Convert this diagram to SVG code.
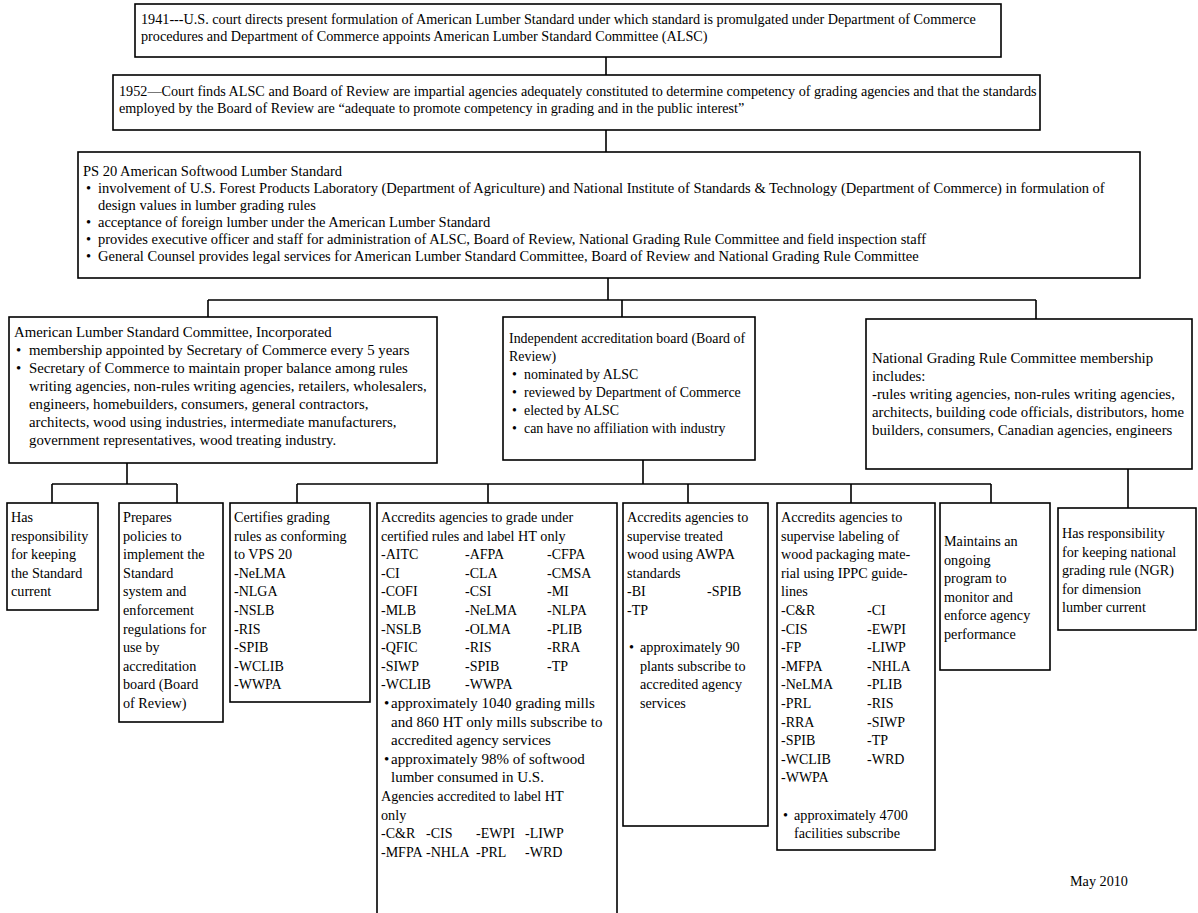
<svg xmlns="http://www.w3.org/2000/svg" width="1198" height="913" viewBox="0 0 1198 913">
<style>
.box{fill:#fff;stroke:#000;stroke-width:1.6}
.ln{fill:none;stroke:#000;stroke-width:1.6}
text{font-family:"Liberation Serif","Times New Roman",serif;fill:#000}
.s14{font-size:14.2px}
.s145{font-size:14.5px}
.s148{font-size:14.8px}
.s139{font-size:13.9px}
.s142{font-size:14.2px}
.code{font-size:14px}
.big{font-size:15px}
</style>
<rect width="1198" height="913" fill="#fff"/>
<g id="connectors">
<path class="ln" d="M606 57V75 M606 130V152 M608 278V300 M208 300H1036 M208 300V317 M622 300V317 M1036 300V319"/>
<path class="ln" d="M127 463V484 M52 484H177 M52 484V503 M177 484V503"/>
<path class="ln" d="M643 460V484 M297 484H991 M297 484V503 M488 484V503 M688 484V503 M851 484V503 M991 484V503"/>
<path class="ln" d="M1128 469V508"/>
</g>
<g id="n1941" class="s14">
<rect class="box" x="135" y="4" width="866" height="53"/>
<text x="141" y="24">1941---U.S. court directs present formulation of American Lumber Standard under which standard is promulgated under Department of Commerce</text>
<text x="141" y="41">procedures and Department of Commerce appoints American Lumber Standard Committee (ALSC)</text>
</g>
<g id="n1952" class="s14">
<rect class="box" x="113" y="75" width="927" height="55"/>
<text x="119" y="96">1952—Court finds ALSC and Board of Review are impartial agencies adequately constituted to determine competency of grading agencies and that the standards</text>
<text x="119" y="113">employed by the Board of Review are “adequate to promote competency in grading and in the public interest”</text>
</g>
<g id="ps20" class="s145">
<rect class="box" x="78" y="152" width="1062" height="126"/>
<text x="83" y="176">PS 20 American Softwood Lumber Standard</text>
<text x="86" y="193">•</text><text x="98" y="193">involvement of U.S. Forest Products Laboratory (Department of Agriculture) and National Institute of Standards &amp; Technology (Department of Commerce) in formulation of</text>
<text x="98" y="210">design values in lumber grading rules</text>
<text x="86" y="227">•</text><text x="98" y="227">acceptance  of foreign lumber under the American Lumber Standard</text>
<text x="86" y="244">•</text><text x="98" y="244">provides executive officer and staff for administration of ALSC, Board of Review, National Grading Rule Committee and field inspection staff</text>
<text x="86" y="261">•</text><text x="98" y="261">General Counsel provides legal services for American Lumber Standard Committee, Board of Review and National Grading Rule Committee</text>
</g>
<g id="alsc" class="s148">
<rect class="box" x="9" y="317" width="428" height="146"/>
<text x="14" y="337">American Lumber Standard Committee, Incorporated</text>
<text x="16" y="355">•</text><text x="29" y="355">membership appointed by Secretary of Commerce every 5 years</text>
<text x="16" y="373">•</text><text x="29" y="373">Secretary of Commerce to maintain proper balance among rules</text>
<text x="29" y="391">writing agencies, non-rules writing agencies, retailers, wholesalers,</text>
<text x="29" y="409">engineers, homebuilders, consumers, general contractors,</text>
<text x="29" y="427">architects, wood using industries, intermediate manufacturers,</text>
<text x="29" y="445">government representatives, wood treating industry.</text>
</g>
<g id="board" class="s139">
<rect class="box" x="503" y="317" width="252" height="143"/>
<text x="509" y="343">Independent accreditation board (Board of</text>
<text x="509" y="361">Review)</text>
<text x="512" y="379">•</text><text x="524" y="379">nominated by ALSC</text>
<text x="512" y="397">•</text><text x="524" y="397">reviewed by Department of Commerce</text>
<text x="512" y="415">•</text><text x="524" y="415">elected by ALSC</text>
<text x="512" y="433">•</text><text x="524" y="433">can have no affiliation with industry</text>
</g>
<g id="ngrc" class="s148">
<rect class="box" x="866" y="319" width="326" height="150"/>
<text x="872" y="363">National Grading Rule Committee membership</text>
<text x="872" y="381">includes:</text>
<text x="872" y="399">-rules writing agencies, non-rules writing agencies,</text>
<text x="872" y="417">architects, building code officials, distributors, home</text>
<text x="872" y="435">builders, consumers, Canadian agencies, engineers</text>
</g>
<g id="has" class="s142">
<rect class="box" x="7" y="503" width="91" height="107"/>
<text x="11" y="522">Has</text>
<text x="11" y="540.6">responsibility</text>
<text x="11" y="559.2">for keeping</text>
<text x="11" y="577.8">the Standard</text>
<text x="11" y="596.4">current</text>
</g>
<g id="prepares" class="s142">
<rect class="box" x="119" y="503" width="104" height="219"/>
<text x="123" y="522">Prepares</text>
<text x="123" y="540.6">policies to</text>
<text x="123" y="559.2">implement the</text>
<text x="123" y="577.8">Standard</text>
<text x="123" y="596.4">system and</text>
<text x="123" y="615">enforcement</text>
<text x="123" y="633.6">regulations for</text>
<text x="123" y="652.2">use by</text>
<text x="123" y="670.8">accreditation</text>
<text x="123" y="689.4">board (Board</text>
<text x="123" y="708">of Review)</text>
</g>
<g id="certifies" class="s142">
<rect class="box" x="230" y="503" width="140" height="199"/>
<text x="234" y="522">Certifies grading</text>
<text x="234" y="540.6">rules as conforming</text>
<text x="234" y="559.2">to VPS 20</text>
<g class="code">
<text x="234" y="577.8">-NeLMA</text>
<text x="234" y="596.4">-NLGA</text>
<text x="234" y="615">-NSLB</text>
<text x="234" y="633.6">-RIS</text>
<text x="234" y="652.2">-SPIB</text>
<text x="234" y="670.8">-WCLIB</text>
<text x="234" y="689.4">-WWPA</text>
</g>
</g>
<g id="accredits" class="s142">
<rect class="box" x="377" y="503" width="240" height="420"/>
<text x="381" y="522">Accredits agencies to grade under</text>
<text x="381" y="540.6">certified rules and label HT only</text>
<g class="code">
<text y="559.2"><tspan x="381">-AITC</tspan><tspan x="465">-AFPA</tspan><tspan x="547">-CFPA</tspan></text>
<text y="577.8"><tspan x="381">-CI</tspan><tspan x="465">-CLA</tspan><tspan x="547">-CMSA</tspan></text>
<text y="596.4"><tspan x="381">-COFI</tspan><tspan x="465">-CSI</tspan><tspan x="547">-MI</tspan></text>
<text y="615"><tspan x="381">-MLB</tspan><tspan x="465">-NeLMA</tspan><tspan x="547">-NLPA</tspan></text>
<text y="633.6"><tspan x="381">-NSLB</tspan><tspan x="465">-OLMA</tspan><tspan x="547">-PLIB</tspan></text>
<text y="652.2"><tspan x="381">-QFIC</tspan><tspan x="465">-RIS</tspan><tspan x="547">-RRA</tspan></text>
<text y="670.8"><tspan x="381">-SIWP</tspan><tspan x="465">-SPIB</tspan><tspan x="547">-TP</tspan></text>
<text y="689.4"><tspan x="381">-WCLIB</tspan><tspan x="465">-WWPA</tspan></text>
</g>
<g class="big">
<text x="384" y="708">•</text><text x="391" y="708">approximately 1040 grading mills</text>
<text x="391" y="726.6">and 860 HT only mills subscribe to</text>
<text x="391" y="745.2">accredited agency services</text>
<text x="384" y="763.8">•</text><text x="391" y="763.8">approximately 98% of softwood</text>
<text x="391" y="782.4">lumber consumed in U.S.</text>
</g>
<text x="381" y="801">Agencies  accredited to label HT</text>
<text x="381" y="819.6">only</text>
<g class="code">
<text y="838.2"><tspan x="381">-C&amp;R</tspan><tspan x="426">-CIS</tspan><tspan x="476">-EWPI</tspan><tspan x="525">-LIWP</tspan></text>
<text y="856.8"><tspan x="381">-MFPA</tspan><tspan x="426">-NHLA</tspan><tspan x="476">-PRL</tspan><tspan x="525">-WRD</tspan></text>
</g>
</g>
<g id="treated" class="s142">
<rect class="box" x="623" y="503" width="145" height="323"/>
<text x="627" y="522">Accredits agencies to</text>
<text x="627" y="540.6">supervise treated</text>
<text x="627" y="559.2">wood using AWPA</text>
<text x="627" y="577.8">standards</text>
<g class="code">
<text y="596.4"><tspan x="627">-BI</tspan><tspan x="707">-SPIB</tspan></text>
<text x="627" y="615">-TP</text>
</g>
<text x="629" y="652.2">•</text><text x="640" y="652.2">approximately 90</text>
<text x="640" y="670.8">plants subscribe to</text>
<text x="640" y="689.4">accredited agency</text>
<text x="640" y="708">services</text>
</g>
<g id="packaging" class="s142">
<rect class="box" x="777" y="503" width="158" height="347"/>
<text x="781" y="522">Accredits agencies to</text>
<text x="781" y="540.6">supervise labeling of</text>
<text x="781" y="559.2">wood packaging mate-</text>
<text x="781" y="577.8">rial using IPPC guide-</text>
<text x="781" y="596.4">lines</text>
<g class="code">
<text y="615"><tspan x="781">-C&amp;R</tspan><tspan x="867">-CI</tspan></text>
<text y="633.6"><tspan x="781">-CIS</tspan><tspan x="867">-EWPI</tspan></text>
<text y="652.2"><tspan x="781">-FP</tspan><tspan x="867">-LIWP</tspan></text>
<text y="670.8"><tspan x="781">-MFPA</tspan><tspan x="867">-NHLA</tspan></text>
<text y="689.4"><tspan x="781">-NeLMA</tspan><tspan x="867">-PLIB</tspan></text>
<text y="708"><tspan x="781">-PRL</tspan><tspan x="867">-RIS</tspan></text>
<text y="726.6"><tspan x="781">-RRA</tspan><tspan x="867">-SIWP</tspan></text>
<text y="745.2"><tspan x="781">-SPIB</tspan><tspan x="867">-TP</tspan></text>
<text y="763.8"><tspan x="781">-WCLIB</tspan><tspan x="867">-WRD</tspan></text>
<text x="781" y="782.4">-WWPA</text>
</g>
<text x="783" y="819.6">•</text><text x="794" y="819.6">approximately 4700</text>
<text x="794" y="838.2">facilities subscribe</text>
</g>
<g id="maintains" class="s142">
<rect class="box" x="940" y="503" width="110" height="167"/>
<text x="944" y="546">Maintains an</text>
<text x="944" y="564.6">ongoing</text>
<text x="944" y="583.2">program to</text>
<text x="944" y="601.8">monitor and</text>
<text x="944" y="620.4">enforce agency</text>
<text x="944" y="639">performance</text>
</g>
<g id="ngr" class="s142">
<rect class="box" x="1058" y="508" width="138" height="122"/>
<text x="1062" y="538">Has responsibility</text>
<text x="1062" y="556.6">for keeping national</text>
<text x="1062" y="575.2">grading rule (NGR)</text>
<text x="1062" y="593.8">for dimension</text>
<text x="1062" y="612.4">lumber current</text>
</g>
<g id="date" class="s142">
<text x="1070" y="886">May 2010</text>
</g>
</svg>
